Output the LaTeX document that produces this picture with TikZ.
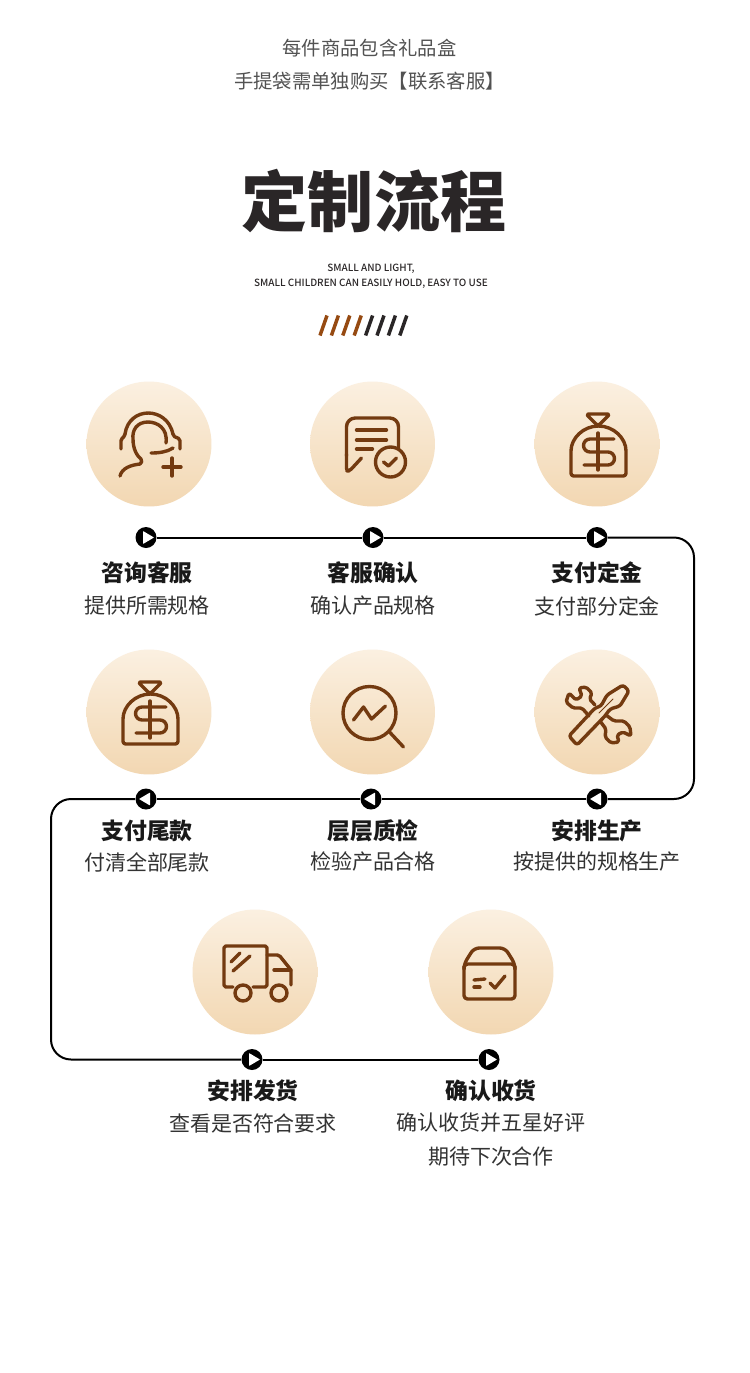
\documentclass[tikz,border=0pt]{standalone}
\usepackage{fontspec}
\setmainfont{Noto Sans CJK SC}
\newfontfamily\mediumfont{Noto Sans CJK SC Medium}
\usepackage{xcolor}
\usepackage{tikz}
\definecolor{gradtop}{HTML}{FBF0E1}
\definecolor{gradbot}{HTML}{F2D7B2}
\definecolor{iconbrown}{HTML}{733A10}
\definecolor{slashbrown}{HTML}{964A12}
\definecolor{inkdark}{HTML}{2A2627}

\begin{document}
\begin{tikzpicture}[
    x=0.02cm, y=-0.02cm,
    disc/.style={circle, minimum size=2.5cm, inner sep=0pt, top color=gradtop, bottom color=gradbot, draw=none},
    marker/.style={circle, minimum size=0.42cm, inner sep=0pt, fill=black},
    markright/.style={marker, path picture={\fill[white, rounded corners=0.3pt] (path picture bounding box.center) ++(-3,-6.5) -- ++(11,6.5) -- ++(-11,6.5) -- cycle;}},
    markleft/.style={marker, path picture={\fill[white, rounded corners=0.3pt] (path picture bounding box.center) ++(4,-6.5) -- ++(-11,6.5) -- ++(11,6.5) -- cycle;}},
    headtext/.style={align=center, text=black!68, font=\fontsize{11}{18.8}\selectfont},
    bigtitle/.style={text=inkdark, font=\fontsize{37.6}{40}\selectfont\bfseries},
    smalltext/.style={align=center, text=inkdark, font=\fontsize{5.65}{8.5}\selectfont\mediumfont},
    steptitle/.style={text=black!90, font=\fontsize{13}{15}\selectfont\bfseries},
    stepnote/.style={align=center, text=black!80, font=\fontsize{11.95}{18.8}\selectfont},
    flowline/.style={draw=black, line width=0.04cm, rounded corners=0.4cm},
    icon/.style={draw=iconbrown, line width=0.068cm, line cap=round, line join=round},
    bagicon/.pic={
        \draw[icon, rounded corners=1.5pt] (1,-18) -- (-11,-30) -- (13,-30) -- cycle;
        \draw[icon, rounded corners=1.5pt] (-26,9.5) arc (180:360:27.5) -- (29,32) -- (-26,32) -- cycle;
        \draw[icon] (17,-5) -- (-7,-5) arc (270:90:6.5) -- (11,8) arc (270:450:6.5) -- (-13,21);
        \draw[icon] (1,-11) -- (1,26);
    }
]
    % Page
    \path[fill=white] (0,0) rectangle (750,1373);

    % Heading
    \node[headtext] (head) at (369.5,64.5) {每件商品包含礼品盒\\手提袋需单独购买【联系客服】};
    \node[bigtitle] (title) at (374,201) {定制流程};
    \node[smalltext] (small) at (371,276.5) {SMALL AND LIGHT,\\SMALL CHILDREN CAN EASILY HOLD, EASY TO USE};
    \foreach \n in {0,...,7} {
        \ifnum\n<4 \def\slashcolor{slashbrown}\else \def\slashcolor{inkdark}\fi
        \draw[draw=\slashcolor, line width=0.07cm] (320+11.4*\n,335.5) -- (327+11.4*\n,315.5);
    }

    % Discs
    \node[disc] (askdisc) at (149,444) {};
    \node[disc] (confirmdisc) at (372.5,444) {};
    \node[disc] (depositdisc) at (597,444) {};
    \node[disc] (balancedisc) at (149,712) {};
    \node[disc] (inspectdisc) at (372.5,712) {};
    \node[disc] (makedisc) at (597,712) {};
    \node[disc] (shipdisc) at (255,972) {};
    \node[disc] (receivedisc) at (491,972) {};

    % Markers
    \node[markright] (askmark) at (146,537.5) {};
    \node[markright] (confirmmark) at (373,537.5) {};
    \node[markright] (depositmark) at (597,537.5) {};
    \node[markleft] (makemark) at (597,799) {};
    \node[markleft] (inspectmark) at (371,799) {};
    \node[markleft] (balancemark) at (146,799) {};
    \node[markright] (shipmark) at (252,1059.5) {};
    \node[markright] (receivemark) at (489,1059.5) {};
    \coordinate (turnne) at (694,537.5);
    \coordinate (turnse) at (694,799);
    \coordinate (turnsw) at (51,799);
    \coordinate (turnws) at (51,1059.5);

    % Connectors
    \draw[flowline] (askmark) -- (confirmmark);
    \draw[flowline] (confirmmark) -- (depositmark);
    \draw[flowline] (depositmark) -- (turnne) -- (turnse) -- (makemark);
    \draw[flowline] (makemark) -- (inspectmark);
    \draw[flowline] (inspectmark) -- (balancemark);
    \draw[flowline] (balancemark) -- (turnsw) -- (turnws) -- (shipmark);
    \draw[flowline] (shipmark) -- (receivemark);

    % Labels
    \node[steptitle] (asktitle) at (147,573) {咨询客服};
    \node[stepnote] (asknote) at (147,606) {提供所需规格};
    \node[steptitle] (confirmtitle) at (373,573) {客服确认};
    \node[stepnote] (confirmnote) at (373,606) {确认产品规格};
    \node[steptitle] (deposittitle) at (597,573) {支付定金};
    \node[stepnote] (depositnote) at (597,606) {支付部分定金};
    \node[steptitle] (balancetitle) at (147,831) {支付尾款};
    \node[stepnote] (balancenote) at (147,862) {付清全部尾款};
    \node[steptitle] (inspecttitle) at (373,831) {层层质检};
    \node[stepnote] (inspectnote) at (373,862) {检验产品合格};
    \node[steptitle] (maketitle) at (597,831) {安排生产};
    \node[stepnote] (makenote) at (597,862) {按提供的规格生产};
    \node[steptitle] (shiptitle) at (253,1091) {安排发货};
    \node[stepnote] (shipnote) at (253,1123) {查看是否符合要求};
    \node[steptitle] (receivetitle) at (491,1091) {确认收货};
    \node[stepnote] (receivenote) at (491,1139.5) {确认收货并五星好评\\期待下次合作};

    % Icons
    \begin{scope}[shift={(askdisc)}]
        \draw[icon, rounded corners=1pt] (-28,5) -- (-28,-5) -- (-24,-8) -- (-24,-10);
        \draw[icon] (-24,-10) .. controls (-20,-38) and (18,-38) .. (24,-10);
        \draw[icon, rounded corners=1pt] (24,-10) -- (24,-8) -- (31,-5) -- (31,5);
        \draw[icon] (17,-1) .. controls (19,-16) and (8,-22) .. (-1,-22) .. controls (-12,-22) and (-17,-14) .. (-16,-5) .. controls (-16,5) and (-12,12) .. (-8,15) .. controls (-7,17) and (-7,19) .. (-9,20) .. controls (-18,21) and (-27,24) .. (-29,32);
        \draw[icon] (2,9) .. controls (10,9) and (18,8) .. (24,4);
        \draw[icon] (14,23) -- (32,23);
        \draw[icon] (23,14) -- (23,32);
    \end{scope}
    \begin{scope}[shift={(confirmdisc)}]
        \draw[icon, rounded corners=5pt] (26,4) -- (26,-26) -- (-26,-26) -- (-26,12);
        \draw[icon, rounded corners=1.5pt] (-26,10) -- (-26,27) -- (-23,27) -- (-11,14);
        \draw[icon] (-16,-14) -- (14,-14);
        \draw[icon] (-16,-4) -- (14,-4);
        \draw[icon] (-16,5) -- (0,5);
        \draw[icon] (18,18) circle (15);
        \draw[icon] (11,18) -- (16,22) -- (24,14);
    \end{scope}
    \pic at (depositdisc) {bagicon};
    \pic at (balancedisc) {bagicon};
    \begin{scope}[shift={(inspectdisc)}]
        \draw[icon] (-3,1) circle (26.5);
        \draw[icon] (17,20) -- (31,35);
        \draw[icon] (-19,8) -- (-9,-5) -- (-1,7) -- (13,-6);
    \end{scope}
    \begin{scope}[shift={(makedisc)}]
        \draw[icon, rounded corners=1.5pt] (-2,-4) -- (4,-6) -- (10,-17) -- (26,-27) -- (32,-21) -- (23,-6) -- (13,-3) -- (8,4) -- (-20,33) -- (-28,24) -- cycle;
        \draw[icon, line width=0.02cm] (2,1) -- (16,-13);
        \draw[icon, rounded corners=1pt] (-2,-7) -- (-7.5,-13) -- (-5,-19) -- (-11,-25) -- (-18,-24) -- (-15,-16) -- (-21,-12) -- (-28,-19) -- (-31,-10) -- (-24,-4) -- (-15,-4) -- (-8,4);
        \draw[icon, rounded corners=1pt] (9,3) -- (17,9) -- (27,9) -- (33,15) -- (34,24) -- (26,20) -- (20,23) -- (22,30) -- (14,31) -- (8,25) -- (9,17) -- (3,9);
    \end{scope}
    \begin{scope}[shift={(shipdisc)}]
        \draw[icon, rounded corners=1pt] (-22,15) -- (-31,15) -- (-31,-26) -- (12,-26) -- (12,15) -- (-2,15);
        \draw[icon, rounded corners=1pt] (12,-17) -- (24,-17) -- (36,-2) -- (36,13);
        \draw[icon] (19,-2) -- (36,-2);
        \draw[icon] (-12,21) circle (8);
        \draw[icon] (24,21) circle (8);
        \draw[icon] (-24,-10) -- (-15,-19);
        \draw[icon] (-22,-1) -- (-5,-16);
    \end{scope}
    \begin{scope}[shift={(receivedisc)}]
        \draw[icon, rounded corners=2pt] (-27,-8) -- (24,-8) -- (24,27) -- (-27,27) -- cycle;
        \draw[icon, rounded corners=3pt] (-27,-6) -- (-27,-8) -- (-17,-24) -- (14,-24) -- (24,-8) -- (24,-6);
        \draw[icon] (-17,8) -- (-6,7);
        \draw[icon] (-17,15) -- (-11,15);
        \draw[icon] (-1,11) -- (4,16) -- (14,4);
    \end{scope}
\end{tikzpicture}
\end{document}
